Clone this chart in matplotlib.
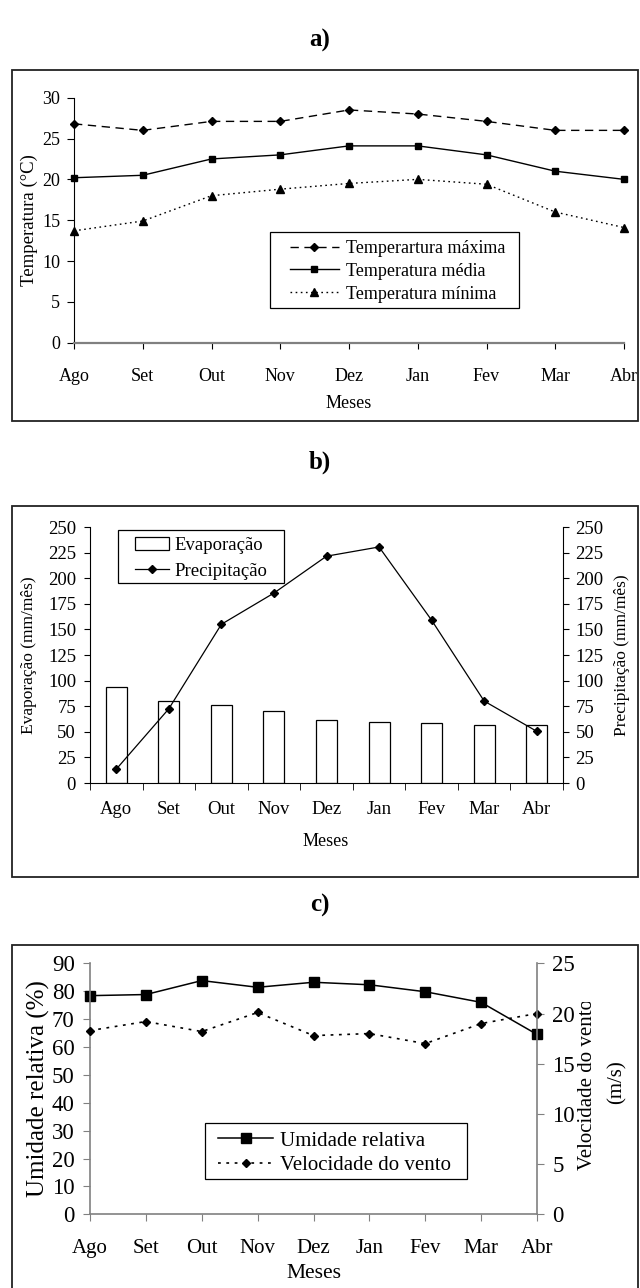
import numpy as np
import matplotlib
matplotlib.use("Agg")
import matplotlib.pyplot as plt
from matplotlib.patches import Rectangle
from matplotlib.transforms import Bbox

plt.rcParams['font.family'] = ['Liberation Serif', 'DejaVu Serif']
plt.rcParams['lines.scale_dashes'] = False

# DADOS
meses = ['Ago', 'Set', 'Out', 'Nov', 'Dez', 'Jan', 'Fev', 'Mar', 'Abr']

t_max = [26.8, 26.0, 27.1, 27.1, 28.5, 28.0, 27.1, 26.0, 26.0]
t_med = [20.2, 20.5, 22.5, 23.0, 24.1, 24.1, 23.0, 21.0, 20.0]
t_min = [13.7, 14.9, 18.0, 18.8, 19.5, 20.0, 19.4, 16.0, 14.1]

evaporacao = [93.5, 80.5, 76.0, 70.5, 61.5, 59.5, 58.5, 57.0, 56.5]
precipitacao = [13.5, 72.5, 155.0, 185.5, 221.5, 230.5, 159.0, 80.0, 50.5]

umidade = [78.4, 78.8, 83.8, 81.4, 83.2, 82.3, 79.8, 76.0, 64.5]
vento = [18.3, 19.2, 18.2, 20.1, 17.8, 18.0, 17.0, 19.0, 20.0]

# FIGURA (coordenadas em pixels, origem no topo)
W, H = 640, 1288
fig = plt.figure(figsize=(W / 100, H / 100), dpi=100)
x = np.arange(len(meses))
cinza = '#808080'


def eixo(x0, y0, x1, y1):
    return fig.add_axes([x0 / W, 1 - y1 / H, (x1 - x0) / W, (y1 - y0) / H])


def moldura(x0, y0, x1, y1, lw=1.3, ec='#222222'):
    fig.add_artist(Rectangle((x0 / W, 1 - y1 / H), (x1 - x0) / W, (y1 - y0) / H,
                             transform=fig.transFigure, fill=False, lw=lw, ec=ec,
                             zorder=5))


def texto(xp, yp, s, **kw):
    return fig.text(xp / W, 1 - yp / H, s, ha='center', va='center', **kw)


def legenda(ax, handles, labels, caixa, x0, y0, fs, hl, htp, ls):
    # caixa da legenda desenhada a parte, para acertar o tamanho
    leg = ax.legend(handles, labels, loc='upper left', bbox_to_anchor=(x0 / W, 1 - y0 / H),
                    bbox_transform=fig.transFigure, borderaxespad=0, borderpad=0,
                    fontsize=fs, handlelength=hl, handletextpad=htp, labelspacing=ls,
                    frameon=False)
    leg.set_zorder(10)
    ax.add_patch(Rectangle((caixa[0] / W, 1 - caixa[3] / H), (caixa[2] - caixa[0]) / W,
                           (caixa[3] - caixa[1]) / H, transform=fig.transFigure,
                           fc='white', ec='k', lw=0.9, zorder=6, clip_on=False))
    return leg


# ------------------------------------------------------------------
# a) TEMPERATURA
moldura(12, 70, 638, 421)
texto(320, 40, 'a)', fontsize=18, fontweight='bold')
ax = eixo(74, 97.7, 624, 342.7)
ax.plot(x, t_max, color='k', lw=1, ls=(0, (6, 4)), marker='D', ms=4, clip_on=False,
        label='Temperartura máxima')
ax.plot(x, t_med, color='k', lw=1, ls='-', marker='s', ms=5, clip_on=False,
        label='Temperatura média')
ax.plot(x, t_min, color='k', lw=1, ls=(0, (1.2, 2.5)), marker='^', ms=6, clip_on=False,
        label='Temperatura mínima')
ax.set_xlim(0, 8)
ax.set_ylim(0, 30)
ax.set_xticks(x)
ax.set_xticklabels(meses)
ax.set_yticks(range(0, 31, 5))
for s in ['top', 'right']:
    ax.spines[s].set_visible(False)
ax.spines['bottom'].set_color(cinza)
ax.spines['bottom'].set_linewidth(1.6)
ax.tick_params(axis='x', length=4, pad=14, labelsize=13)
ax.tick_params(axis='y', length=5, pad=5, labelsize=13)
texto(29, 220, 'Temperatura (°C)', rotation=90, fontsize=13.5)
texto(349, 403, 'Meses', fontsize=13)
h, l = ax.get_legend_handles_labels()
legenda(ax, h, l, (270, 232, 519, 308), 290, 240, 13, 2.7, 0.4, 0.32)

# ------------------------------------------------------------------
# b) EVAPORACAO / PRECIPITACAO
moldura(12, 506, 638, 877)
texto(320, 462, 'b)', fontsize=18, fontweight='bold')
ax = eixo(90, 527, 563, 783)
ax.bar(x, evaporacao, width=0.4, color='white', edgecolor='k', lw=0.9, label='Evaporação')
ax.set_xlim(-0.5, 8.5)
ax.set_ylim(0, 250)
ax.set_yticks(range(0, 251, 25))
ax.set_xticks(x)
ax.set_xticklabels(meses)
ax.set_xticks(np.arange(-0.5, 9, 1), minor=True)
ax.tick_params(axis='x', which='major', length=0, pad=13, labelsize=13.5)
ax.tick_params(axis='x', which='minor', length=5)
ax.tick_params(axis='y', length=4, pad=6, labelsize=13.5)
for s in ['top', 'right']:
    ax.spines[s].set_visible(False)
ax2 = ax.twinx()
ax2.plot(x, precipitacao, color='k', lw=0.9, marker='D', ms=3.8, label='Precipitação')
ax2.set_ylim(0, 250)
ax2.set_yticks(range(0, 251, 25))
ax2.tick_params(axis='y', length=4, pad=5, labelsize=13.5)
for s in ['top', 'left', 'bottom']:
    ax2.spines[s].set_visible(False)
texto(29.5, 655, 'Evaporação (mm/mês)', rotation=90, fontsize=12.5)
texto(622, 655, 'Precipitação (mm/mês)', rotation=90, fontsize=12.5)
texto(326, 842, 'Meses', fontsize=13)
h1, l1 = ax.get_legend_handles_labels()
h2, l2 = ax2.get_legend_handles_labels()
legenda(ax2, h1 + h2, l1 + l2, (118, 530, 284, 583), 135, 537, 13.5, 1.8, 0.3, 0.45)

# ------------------------------------------------------------------
# c) UMIDADE / VENTO
moldura(12, 945, 638, 1300)
texto(320, 905, 'c)', fontsize=18, fontweight='bold')
ax = eixo(90, 963.3, 537, 1214.3)
ax.plot(x, umidade, color='k', lw=1.1, ls='-', marker='s', ms=6.5, clip_on=False,
        label='Umidade relativa')
ax.set_xlim(0, 8)
ax.set_ylim(0, 90)
ax.set_xticks(x)
ax.set_xticklabels(meses)
ax.set_yticks(range(0, 91, 10))
ax.tick_params(axis='x', length=5, pad=13, labelsize=15, color=cinza)
ax.tick_params(axis='y', length=5, pad=6, labelsize=16.5, color=cinza)
for s in ['top', 'right']:
    ax.spines[s].set_visible(False)
for s in ['left', 'bottom']:
    ax.spines[s].set_color(cinza)
    ax.spines[s].set_linewidth(1.2)
ax2 = ax.twinx()
ax2.plot(x, vento, color='k', lw=1.2, ls=(0, (2, 4)), marker='D', ms=4.3, clip_on=False,
         label='Velocidade do vento')
ax2.set_ylim(0, 25)
ax2.set_yticks(range(0, 26, 5))
ax2.tick_params(axis='y', length=5, pad=6, labelsize=16.5, color=cinza)
for s in ['top', 'left', 'bottom']:
    ax2.spines[s].set_visible(False)
ax2.spines['right'].set_color(cinza)
ax2.spines['right'].set_linewidth(1.2)
texto(38, 1089, 'Umidade relativa (%)', rotation=90, fontsize=18)
t = texto(588, 1084, 'Velocidade do vento', rotation=90, fontsize=15)
# no original o fim do rotulo aparece cortado
t.set_clip_box(Bbox.from_extents(0, 0, W, H - 1002))
t.set_clip_on(True)
texto(617, 1082, '(m/s)', rotation=90, fontsize=15)
texto(314, 1273, 'Meses', fontsize=15.5)
h1, l1 = ax.get_legend_handles_labels()
h2, l2 = ax2.get_legend_handles_labels()
legenda(ax2, h1 + h2, l1 + l2, (205, 1123, 467, 1179), 218, 1131, 15, 2.64, 0.36, 0.24)

fig.savefig('out.png', dpi=100)
